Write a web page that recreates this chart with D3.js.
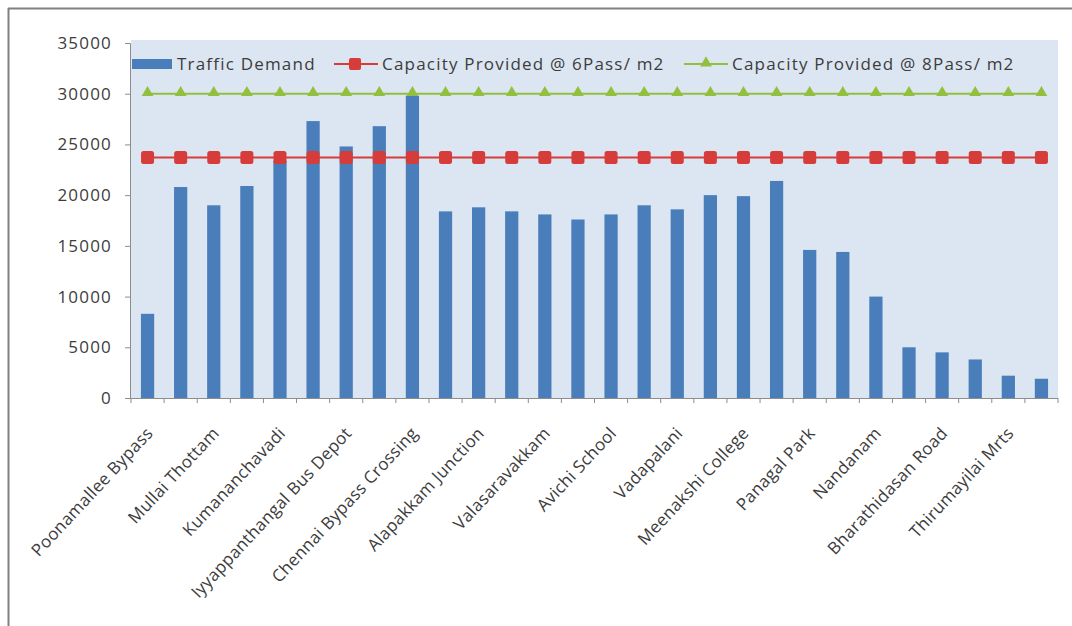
<!DOCTYPE html>
<html>
<head>
<meta charset="utf-8">
<script src="https://cdn.jsdelivr.net/npm/d3@7"></script>
<style>
  html, body { margin: 0; padding: 0; background: #ffffff; }
  svg { display: block; }
</style>
</head>
<body>
<svg id="chart" width="1072" height="626"></svg>
<script>
// ---- data ----
const categories = ["Poonamallee Bypass", "", "Mullai Thottam", "", "Kumananchavadi", "",
  "Iyyappanthangal Bus Depot", "", "Chennai Bypass Crossing", "", "Alapakkam Junction", "",
  "Valasaravakkam", "", "Avichi School", "", "Vadapalani", "", "Meenakshi College", "",
  "Panagal Park", "", "Nandanam", "", "Bharathidasan Road", "", "Thirumayilai Mrts", ""];
const trafficDemand = [8300, 20800, 19000, 20900, 23400, 27300, 24800, 26800, 29800, 18400,
  18800, 18400, 18100, 17600, 18100, 19000, 18600, 20000, 19900, 21400,
  14600, 14400, 10000, 5000, 4500, 3800, 2200, 1900];
const capacity6 = [23700, 23700, 23700, 23700, 23700, 23700, 23700, 23700, 23700, 23700,
  23700, 23700, 23700, 23700, 23700, 23700, 23700, 23700, 23700, 23700,
  23700, 23700, 23700, 23700, 23700, 23700, 23700, 23700];
const capacity8 = [30000, 30000, 30000, 30000, 30000, 30000, 30000, 30000, 30000, 30000,
  30000, 30000, 30000, 30000, 30000, 30000, 30000, 30000, 30000, 30000,
  30000, 30000, 30000, 30000, 30000, 30000, 30000, 30000];
const yTicks = [0, 5000, 10000, 15000, 20000, 25000, 30000, 35000];
const seriesNames = ["Traffic Demand", "Capacity Provided @ 6Pass/ m2", "Capacity Provided @ 8Pass/ m2"];

(function () {
// ---- layout ----
const svg = d3.select("#chart");
const pLeft = 131, pRight = 1058, pTop = 43, pBottom = 398;
const idx = d3.range(categories.length);
const x = d3.scaleBand().domain(idx).range([pLeft, pRight]).paddingInner(0.6).paddingOuter(0.3);
const y = d3.scaleLinear().domain([0, 35000]).range([pBottom, pTop]);

const blue = "#4a7ebb", red = "#d63c3a", green = "#92bf3e", textCol = "#3c3c3c", axisCol = "#8c8c8c";
const font = "'Open Sans', 'DejaVu Sans', sans-serif";

// frame
svg.append("line").attr("x1", 8).attr("x2", 1072).attr("y1", 8.5).attr("y2", 8.5)
  .attr("stroke", "#808080").attr("stroke-width", 2);
svg.append("line").attr("x1", 8.5).attr("x2", 8.5).attr("y1", 8).attr("y2", 626)
  .attr("stroke", "#808080").attr("stroke-width", 2);

// plot background
svg.append("rect").attr("x", pLeft).attr("y", y(35000) - 3)
  .attr("width", pRight - pLeft).attr("height", pBottom - y(35000) + 3)
  .attr("fill", "#dce6f2");

// bars
svg.append("g").selectAll("rect").data(trafficDemand).join("rect")
  .attr("x", (d, i) => x(i))
  .attr("width", x.bandwidth())
  .attr("y", d => y(d))
  .attr("height", d => pBottom - y(d))
  .attr("fill", blue);

// y axis
const yAxis = svg.append("g").attr("transform", `translate(${pLeft - 1},0)`)
  .call(d3.axisLeft(y).tickValues(yTicks).tickSize(5).tickPadding(13).tickFormat(d3.format("d")));
yAxis.select(".domain").attr("stroke", axisCol);
yAxis.selectAll(".tick line").attr("stroke", axisCol);
yAxis.selectAll("text").attr("fill", textCol).style("font-family", font)
  .style("font-size", "17px").style("letter-spacing", "1.2px");

// x axis
const xAxisG = svg.append("g").attr("transform", `translate(0,${pBottom})`);
xAxisG.append("line").attr("x1", pLeft - 1).attr("x2", pRight).attr("y1", 0.5).attr("y2", 0.5)
  .attr("stroke", axisCol);
xAxisG.selectAll("line.tk").data(d3.range(categories.length + 1)).join("line")
  .attr("class", "tk")
  .attr("x1", i => pLeft + i * (pRight - pLeft) / categories.length)
  .attr("x2", i => pLeft + i * (pRight - pLeft) / categories.length)
  .attr("y1", 0).attr("y2", 5).attr("stroke", axisCol);

svg.append("g").selectAll("text").data(idx.filter(i => categories[i] !== "")).join("text")
  .attr("transform", i => `translate(${x(i) + x.bandwidth() / 2 + 2},${pBottom + 32}) rotate(-47)`)
  .attr("text-anchor", "end")
  .attr("dy", "0.35em")
  .attr("fill", textCol)
  .style("font-family", font).style("font-size", "17px").style("letter-spacing", "0.3px")
  .text(i => categories[i]);

// lines
const cx = i => x(i) + x.bandwidth() / 2;
const lineGen = d3.line().x((d, i) => cx(i)).y(d => y(d));
svg.append("path").datum(capacity8).attr("d", lineGen)
  .attr("fill", "none").attr("stroke", green).attr("stroke-width", 2);
svg.append("path").datum(capacity6).attr("d", lineGen)
  .attr("fill", "none").attr("stroke", red).attr("stroke-width", 2);

const tri = d3.symbol().type(d3.symbolTriangle).size(60);
svg.append("g").selectAll("path").data(capacity8).join("path")
  .attr("d", tri)
  .attr("transform", (d, i) => `translate(${cx(i)},${y(d) - 1})`)
  .attr("fill", green);
svg.append("g").selectAll("rect").data(capacity6).join("rect")
  .attr("x", (d, i) => cx(i) - 6.5).attr("y", d => y(d) - 6.5)
  .attr("width", 13).attr("height", 13).attr("rx", 2.5)
  .attr("fill", red);

// legend
const lg = svg.append("g").style("font-family", font).style("font-size", "17px")
  .style("letter-spacing", "1.2px").attr("fill", textCol);
const ly = 64;
lg.append("rect").attr("x", 132).attr("y", ly - 5).attr("width", 40).attr("height", 10).attr("fill", blue);
lg.append("text").attr("x", 177).attr("y", ly).attr("dy", "0.35em").text(seriesNames[0]);
lg.append("line").attr("x1", 334).attr("x2", 378).attr("y1", ly).attr("y2", ly).attr("stroke", red).attr("stroke-width", 2);
lg.append("rect").attr("x", 349).attr("y", ly - 6).attr("width", 12).attr("height", 12).attr("rx", 2).attr("fill", red);
lg.append("text").attr("x", 382).attr("y", ly).attr("dy", "0.35em").text(seriesNames[1]);
lg.append("line").attr("x1", 684).attr("x2", 728).attr("y1", ly).attr("y2", ly).attr("stroke", green).attr("stroke-width", 2);
lg.append("path").attr("d", tri).attr("transform", `translate(706,${ly - 1})`).attr("fill", green);
lg.append("text").attr("x", 732).attr("y", ly).attr("dy", "0.35em").text(seriesNames[2]);
})();
</script>
</body>
</html>
